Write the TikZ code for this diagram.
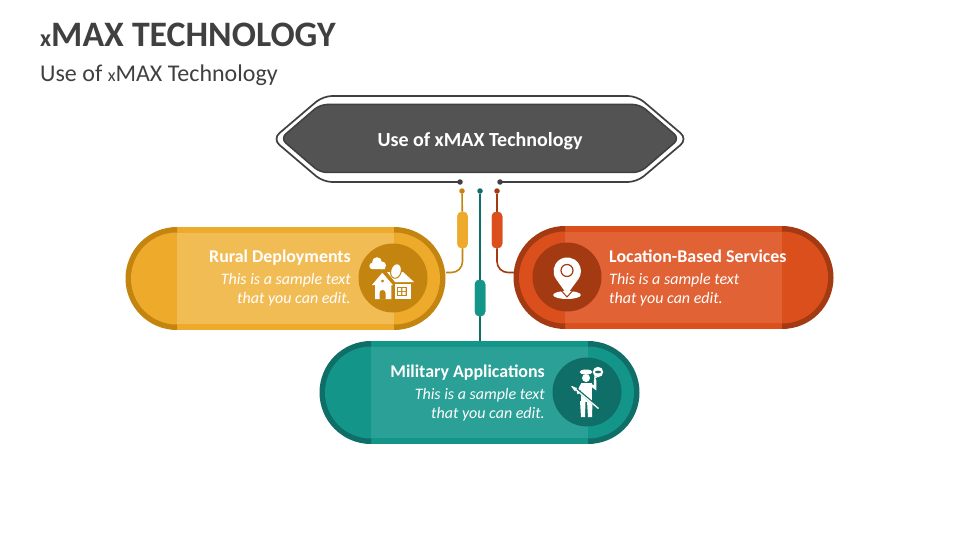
\documentclass[tikz,border=0pt]{standalone}
\usepackage{fontspec}
\setmainfont{Carlito}
\definecolor{ink}{HTML}{404040}
\definecolor{hexfill}{HTML}{535353}
\definecolor{oMain}{HTML}{EEAA2A}
\definecolor{oDark}{HTML}{C3850F}
\definecolor{oLight}{HTML}{F2BC55}
\definecolor{rMain}{HTML}{DA4F1C}
\definecolor{rDark}{HTML}{A33A12}
\definecolor{rLight}{HTML}{E06235}
\definecolor{tMain}{HTML}{14958A}
\definecolor{tDark}{HTML}{0F6E67}
\definecolor{tLight}{HTML}{2BA096}
\tikzset{
  dotnode/.style={circle,fill=#1,inner sep=0pt,minimum size=5.5pt},
  capsule/.style={rectangle,rounded corners=4.5pt,fill=#1,inner sep=0pt,minimum width=10.5pt,minimum height=36.5pt},
  link/.style={draw=#1,line width=1.6pt},
  headtext/.style={text=white,font=\bfseries\fontsize{17.9}{19}\selectfont,inner sep=0pt},
  bodytext/.style={text=white,font=\itshape\fontsize{16}{19}\selectfont,inner sep=0pt,align=#1},
  pillbox/.style={rectangle,inner sep=0pt,minimum width=320pt,minimum height=103pt,anchor=north west}
}
\newcommand{\pillshape}[6]{%
 \begin{scope}[shift={(#2,#3)}]
  \node[pillbox] (#1) at (0,0) {};
  \fill[#4] (51,0) rectangle (268,103);
  \fill[#5] (51,0) arc[start angle=90,end angle=270,radius=51.5pt] -- cycle;
  \fill[#4] (51,5.5) arc[start angle=90,end angle=270,radius=46pt] -- cycle;
  \fill[#5] (268,0) arc[start angle=90,end angle=-90,radius=51.5pt] -- cycle;
  \fill[#4] (268,5.5) arc[start angle=90,end angle=-90,radius=46pt] -- cycle;
  \fill[#6] (51,6) rectangle (268,97);
 \end{scope}}
\begin{document}
\begin{tikzpicture}[x=1pt,y=-1pt]
\useasboundingbox (0,0) rectangle (960,540);
\fill[white] (0,0) rectangle (960,540);
% titles
\node[anchor=base west,inner sep=0pt,text=ink,font=\bfseries] (title) at (40,47)
  {\fontsize{24}{26}\selectfont x\fontsize{35.8}{38}\selectfont MAX TECHNOLOGY};
\node[anchor=base west,inner sep=0pt,text=ink] (subtitle) at (40,82)
  {\fontsize{24}{26}\selectfont Use of \fontsize{18}{20}\selectfont x\fontsize{24}{26}\selectfont MAX Technology};
% hexagon
\node[dotnode=ink] (dotL) at (460,182) {};
\node[dotnode=ink] (dotR) at (500,182) {};
\draw[ink,line width=1.7pt,rounded corners=9pt] (dotL.center) -- (323,182) -- (272.5,139) -- (323,96) -- (637,96) -- (687.5,139) -- (637,182) -- (dotR.center);
\draw[ink,fill=hexfill,line width=1.5pt,rounded corners=7pt] (280.5,138.5) -- (320,104.5) -- (640,104.5) -- (679.5,138.5) -- (640,172.5) -- (320,172.5) -- cycle;
\node[text=white,font=\bfseries\fontsize{20}{22}\selectfont,inner sep=0pt] (hexlabel) at (480,141) {Use of xMAX Technology};
% pills
\pillshape{rural}{126}{227}{oMain}{oDark}{oLight}
\pillshape{location}{514}{226}{rMain}{rDark}{rLight}
\pillshape{military}{320}{341}{tMain}{tDark}{tLight}
% connectors
\node[dotnode=oDark] (dotO) at (462,191) {};
\node[dotnode=tDark] (dotT) at (480,191) {};
\node[dotnode=rDark] (dotN) at (497,191) {};
\node[capsule=oMain] (capO) at (462.5,230) {};
\node[capsule=rMain] (capN) at (497,230) {};
\node[capsule=tMain] (capT) at (480,298) {};
\coordinate (ruralEnd) at (446,272.5);
\coordinate (locEnd) at (514,272.5);
\draw[link=oDark] (dotO) -- (capO);
\draw[link=rDark] (dotN) -- (capN);
\draw[link=oDark,rounded corners=11pt] (capO.south) |- (ruralEnd);
\draw[link=rDark,rounded corners=11pt] (capN.south) |- (locEnd);
\draw[link=tDark] (dotT) -- (capT);
\draw[link=tDark] (capT.south) -- (capT.south |- military.north);
\node[capsule=oMain] at (capO) {};
\node[capsule=rMain] at (capN) {};
\node[capsule=tMain] at (capT) {};
% badges
\fill[oDark] (393,278) circle[radius=34.5pt];
\fill[rDark] (567,277) circle[radius=34.5pt];
\fill[tDark] (587,392) circle[radius=34.5pt];
% texts
\node[headtext,anchor=base east] (ruralHead) at (351,262) {Rural Deployments};
\node[bodytext=right,anchor=north east] (ruralBody) at (351,273) {This is a sample text\\that you can edit.};
\node[headtext,anchor=base west] (locHead) at (609,262) {Location-Based Services};
\node[bodytext=left,anchor=north west] (locBody) at (609,273) {This is a sample text\\that you can edit.};
\node[headtext,anchor=base east] (milHead) at (545,377) {Military Applications};
\node[bodytext=right,anchor=north east] (milBody) at (545,388) {This is a sample text\\that you can edit.};
% house icon
\fill[white] (372.5,266) circle[radius=3.2pt] (377,262) circle[radius=4.8pt] (382,265.5) circle[radius=4pt] (372.5,265) rectangle (385,269.2);
\fill[white] (387,272) -- (403,272) -- (414,282) -- (395,282) -- cycle;
\fill[white] (394.5,284) rectangle (411,299);
\fill[white] (372,285) -- (382.5,272.5) -- (393,285) -- (391.3,285) -- (391.3,299) -- (375,299) -- (375,285) -- cycle;
\draw[oDark,line width=1pt] (382.5,272) -- (393.5,284.5);
\draw[white,line width=1pt,fill=oDark] (382.5,281) circle[radius=2pt];
\fill[oDark] (379.5,299) -- (379.5,293) arc[start angle=180,end angle=0,radius=3pt] -- (385.5,299) -- cycle;
\fill[oDark] (396.5,286.5) rectangle (407,296);
\fill[white] (398,288) rectangle (401.2,291) (402.4,288) rectangle (405.6,291) (398,292) rectangle (401.2,294.8) (402.4,292) rectangle (405.6,294.8);
\draw[oDark,line width=1pt,fill=white,rotate around={-15:(396,271)}] (396,271) ellipse[x radius=5.2pt,y radius=7.5pt];
% pin icon
\fill[white] (567,295) ellipse[x radius=13.8pt,y radius=4pt];
\draw[rDark,line width=1pt] (558,287) -- (567,297) -- (576,287);
\fill[white] (567,294.5) -- (556,279) arc[start angle=215,end angle=-35,radius=13.7pt] -- cycle;
\draw[rDark,line width=1.2pt,fill=white] (567,270.5) circle[radius=6pt];
% soldier icon
\fill[white] (586,372) ellipse[x radius=6.5pt,y radius=2.5pt];
\fill[white] (586,378) circle[radius=4pt];
\fill[white] (580.5,383) rectangle (592,402);
\fill[white] (580,401) -- (585.5,401) -- (585,417) -- (581,417) -- cycle;
\fill[white] (587,401) -- (592.5,401) -- (592,417) -- (588,417) -- cycle;
\draw[white,line width=2.5pt,line cap=round] (591,385) -- (595,388) -- (595,380);
\draw[white,line width=2.5pt,line cap=round] (581.5,385) -- (578,393);
\draw[tDark,line width=2.6pt] (575,388) -- (594,404);
\draw[white,line width=1.4pt] (572,386.5) -- (598.5,408.5);
\fill[white] (571,386) -- (577,388) -- (575,391.5) -- cycle;
\fill[white] (598,372) circle[radius=5.2pt];
\fill[white] (594.5,376) -- (594,379.5) -- (597.5,377) -- cycle;
\fill[tDark] (598,372) ellipse[x radius=3pt,y radius=1.3pt];
\end{tikzpicture}
\end{document}
